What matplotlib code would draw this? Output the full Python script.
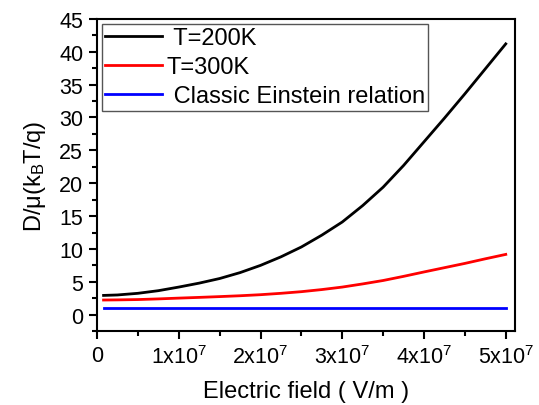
import numpy as np
import matplotlib
matplotlib.use('Agg')
import matplotlib.pyplot as plt
from matplotlib.ticker import MultipleLocator, FuncFormatter

plt.rcParams['font.family'] = ['Liberation Sans', 'DejaVu Sans']
plt.rcParams['mathtext.fontset'] = 'custom'
plt.rcParams['mathtext.rm'] = 'Liberation Sans'
plt.rcParams['mathtext.it'] = 'Liberation Sans'

# electric field (V/m)
field = [0.08e7, 0.25e7, 0.5e7, 0.75e7, 1.0e7, 1.25e7, 1.5e7, 1.75e7, 2.0e7, 2.25e7, 2.5e7,
         2.75e7, 3.0e7, 3.25e7, 3.5e7, 3.75e7, 4.0e7, 4.25e7, 4.5e7, 4.75e7, 5.0e7]
# D/mu in units of kBT/q
t200 = [2.93, 3.0, 3.25, 3.65, 4.2, 4.8, 5.5, 6.4, 7.5, 8.8, 10.3,
        12.1, 14.1, 16.6, 19.4, 22.7, 26.3, 29.9, 33.6, 37.4, 41.2]
t300 = [2.23, 2.25, 2.3, 2.4, 2.52, 2.63, 2.75, 2.88, 3.04, 3.25, 3.5,
        3.82, 4.2, 4.68, 5.2, 5.83, 6.5, 7.15, 7.8, 8.5, 9.17]
classic = [1.0] * len(field)
labels = [' T=200K', 'T=300K', ' Classic Einstein relation']

fig = plt.figure(figsize=(5.39, 4.06), dpi=100)
ax = fig.add_axes([0.18, 0.182, 0.775, 0.769])

ax.plot(field, t200, color='black', lw=2, label=labels[0])
ax.plot(field, t300, color='red', lw=2, label=labels[1])
ax.plot(field, classic, color='blue', lw=2, label=labels[2])

ax.set_xlim(0, 5.11e7)
ax.set_ylim(-2.5, 45)
ax.xaxis.set_major_locator(MultipleLocator(1e7))
ax.xaxis.set_minor_locator(MultipleLocator(0.5e7))
ax.yaxis.set_major_locator(MultipleLocator(5))
ax.yaxis.set_minor_locator(MultipleLocator(2.5))

def xfmt(v, pos):
    n = int(round(v / 1e7))
    if n == 0:
        return '0'
    return '%dx10$^{7}$' % n

ax.xaxis.set_major_formatter(FuncFormatter(xfmt))
ax.tick_params(which='both', direction='out', top=False, right=False, labelsize=15.5, width=1.5)
ax.tick_params(which='major', length=6, pad=4)
ax.tick_params(which='minor', length=3.5)
for s in ax.spines.values():
    s.set_linewidth(1.5)

ax.set_xlabel('Electric field ( V/m )', fontsize=17, labelpad=9)
ax.set_ylabel('D/\u03bc(k$_{B}$T/q)', fontsize=17, labelpad=8)

leg = ax.legend(loc='upper left', fontsize=17, handlelength=2.4, handletextpad=0.2,
                fancybox=False, framealpha=1, edgecolor='#555555',
                borderpad=0.15, labelspacing=0.3, borderaxespad=0.2)
leg.get_frame().set_linewidth(1.0)

fig.savefig('out.png', dpi=100)
